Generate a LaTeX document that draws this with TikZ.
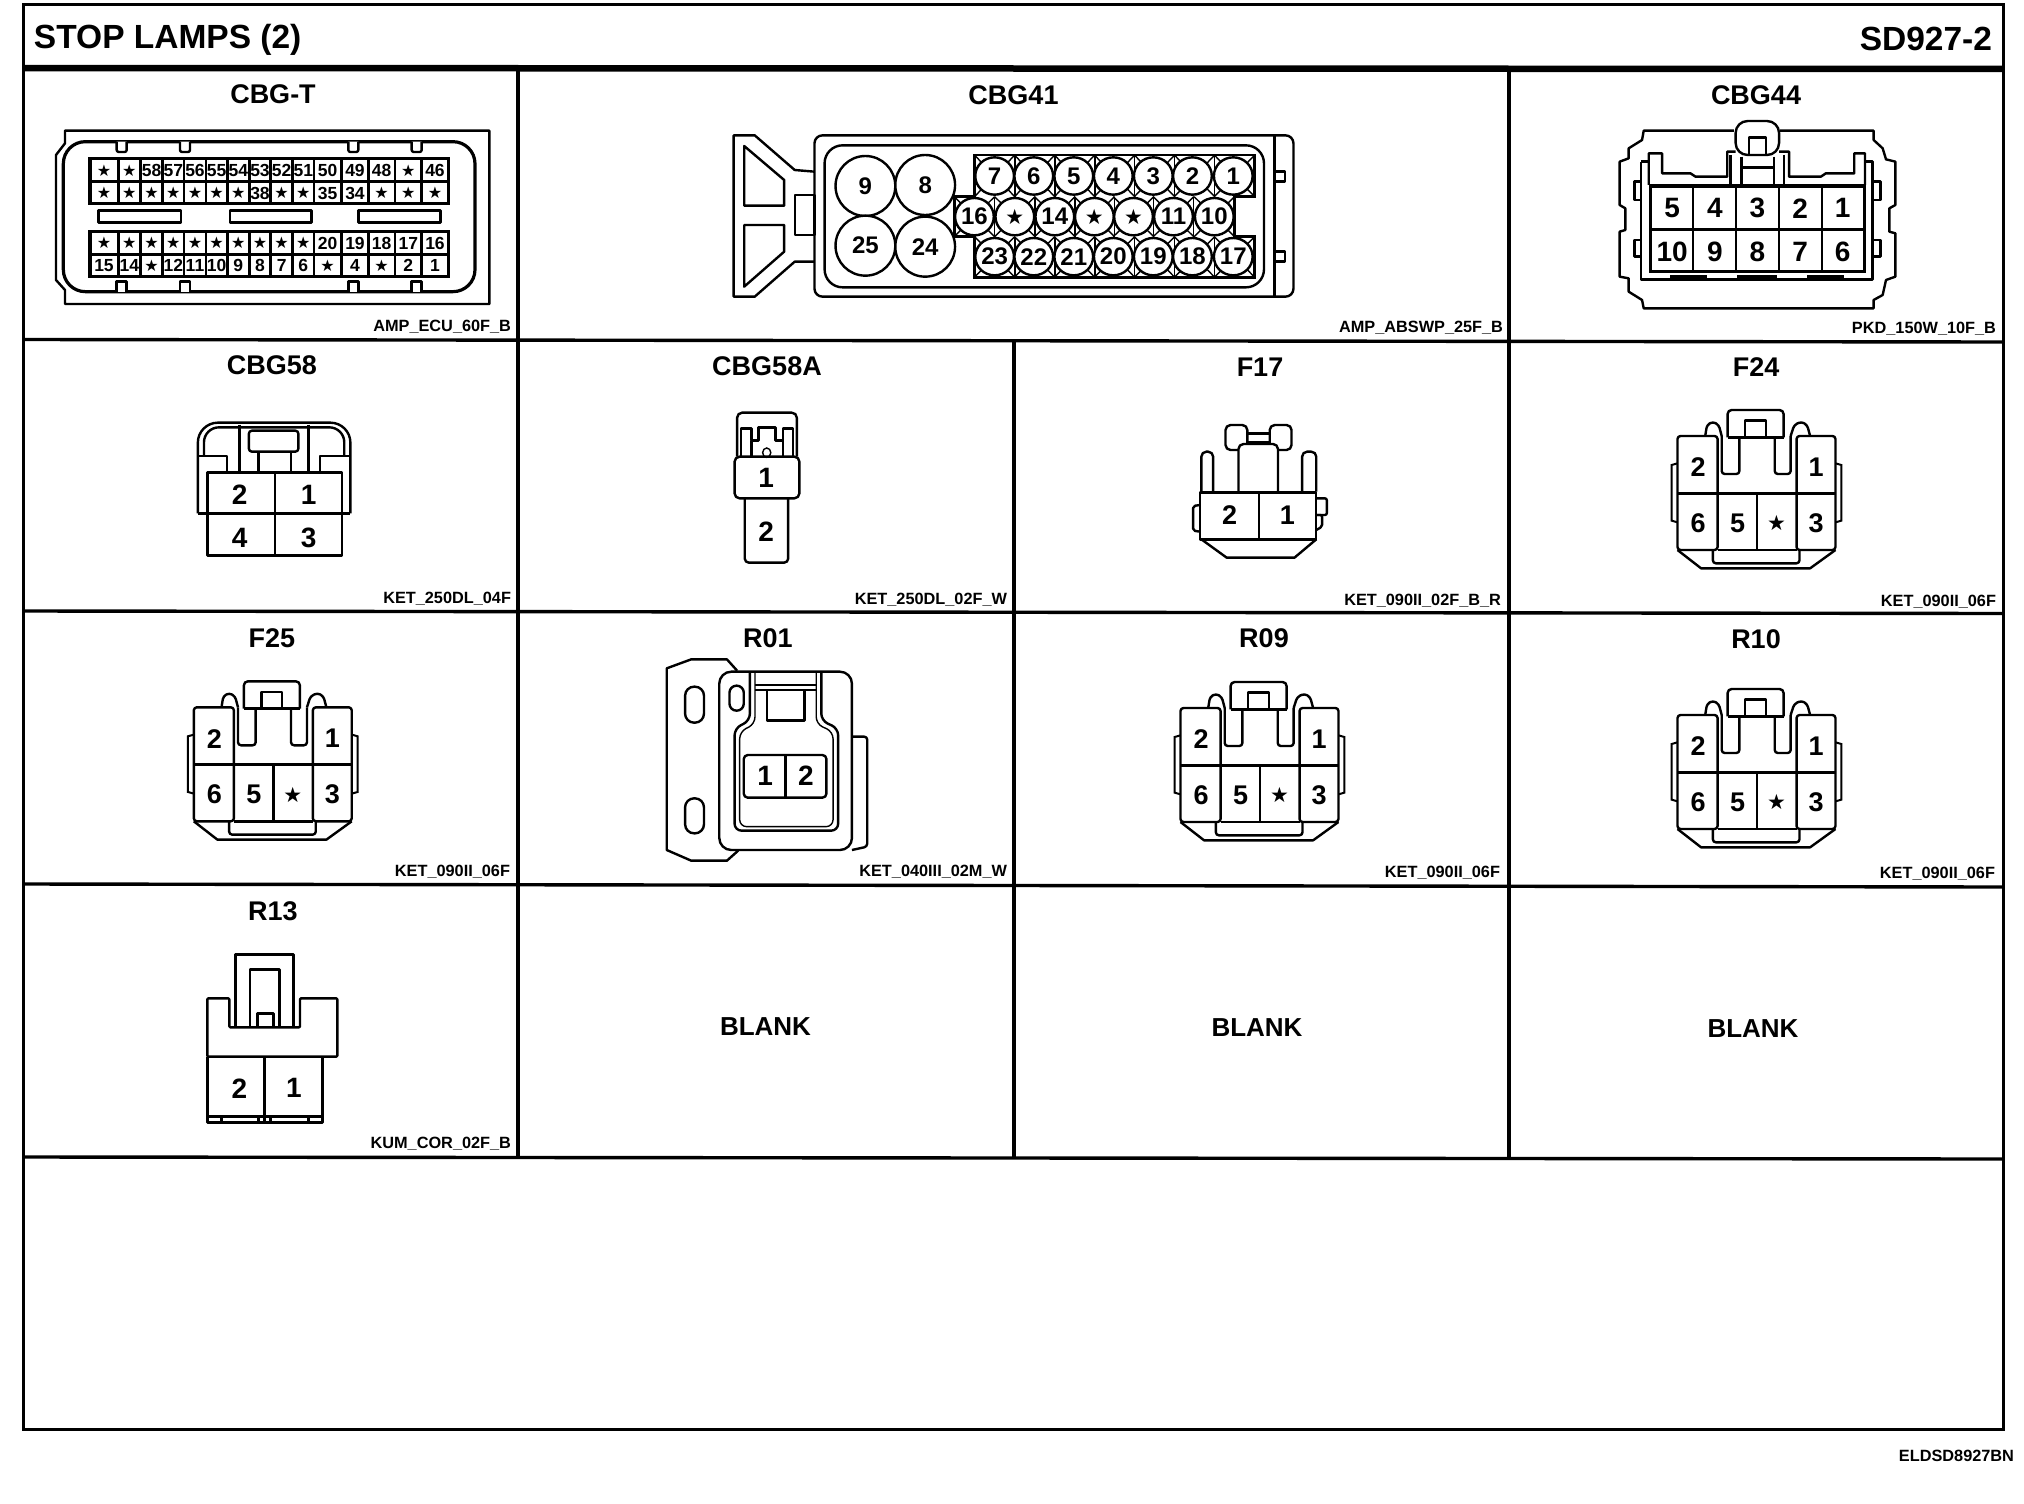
\documentclass[tikz,border=0pt]{standalone}
\usepackage{fontspec}
\setmainfont{Liberation Sans}
\newfontfamily\stfont{DejaVu Sans}
\newcounter{nn}
\newcommand{\fs}[1]{\fontsize{#1}{#1}\selectfont}
\newcommand{\ST}[1][21]{{\stfont\fs{#1}★}}
% text helper: size, x, y, text
\newcommand{\txt}[4]{\stepcounter{nn}\node[tlab,font=\bfseries\fs{#1}] (t\arabic{nn}) at (#2,#3) {#4};}
\newcommand{\lab}[3]{\stepcounter{nn}\node[tlab,anchor=east,font=\bfseries\fs{16.3}] (t\arabic{nn}) at (#1,#2) {#3};}
\tikzset{
  tlab/.style={inner sep=0pt,outer sep=0pt,text=black},
  cl/.style={line width=2.4pt,line join=round,draw=black},
  thn/.style={line width=1.4pt,draw=black},
  gridl/.style={line width=3.4pt,draw=black},
  zoomat/.style n args={3}{shift={(#1,#2)},x=#3pt,y=-0.33333pt}
}
% six-way connector: x and y of the local zoom origin
\newcommand{\sixpin}[2]{%
\begin{scope}[zoomat={#1}{#2}{0.5893}]
  \draw[cl,rounded corners=3pt] (1048,600)--(1048,258)--(980,258)--(980,600)--cycle;
  \draw[cl,rounded corners=3pt] (1182,600)--(1182,258)--(1248,258)--(1248,600)--cycle;
  \draw[cl] (980,430)--(1248,430) (1115,430)--(1115,600) (1048,600)--(1182,600);
  \draw[cl] (980,600)--(1020,655)--(1205,655)--(1248,600);
  \draw[cl,rounded corners=3pt] (1040,600)--(1040,640)--(1187,640)--(1187,600);
  \draw[cl,rounded corners=4pt] (1065,262)--(1065,180)--(1160,180)--(1160,262);
  \draw[cl] (1095,262)--(1095,212)--(1130,212)--(1130,262);
  \draw[cl] (1065,262)--(1160,262);
  \draw[cl,rounded corners=3pt] (1055,258)--(1055,372)--(1085,372)--(1085,262);
  \draw[cl,rounded corners=3pt] (1145,262)--(1145,372)--(1172,372)--(1172,258);
  \draw[cl,rounded corners=3pt] (1027,258)--(1030,225)--(1040,215)--(1050,225)--(1055,258);
  \draw[cl,rounded corners=3pt] (1172,258)--(1178,225)--(1190,215)--(1200,225)--(1205,258);
  \draw[thn,line width=2pt] (980,340)--(970,345)--(970,512)--(980,517);
  \draw[thn,line width=2pt] (1248,340)--(1258,345)--(1258,512)--(1248,517);
  \txt{27}{1015}{352}{2}\txt{27}{1215}{352}{1}
  \txt{27}{1015}{520}{6}\txt{27}{1082}{520}{5}\txt{27}{1148}{520}{\ST}\txt{27}{1215}{520}{3}
\end{scope}}
\begin{document}
\begin{tikzpicture}[x=1pt,y=-1pt]
\useasboundingbox (0,0) rectangle (2024,1504);
\fill[white] (0,0) rectangle (2024,1504);
% ---------- frame ----------
\draw[line width=3pt] (23,5) rectangle (2003,1429);
\draw[line width=6.5pt] (23,68)--(2003,69);
\draw[gridl] (23,339.5)--(2003,342) (23,611)--(2003,613.5) (23,884)--(2003,887) (23,1157)--(2003,1159);
\draw[gridl] (518,68)--(518,1158) (1014,340)--(1014,1158) (1509,69)--(1509,1158);
% ---------- title ----------
\stepcounter{nn}\node[tlab,anchor=west,font=\bfseries\fs{33.5}] (title) at (34,39.5) {STOP LAMPS (2)};
\stepcounter{nn}\node[tlab,anchor=east,font=\bfseries\fs{33.5}] (sheet) at (1992,39) {SD927-2};
\stepcounter{nn}\node[tlab,anchor=east,font=\bfseries\fs{16.3}] (code) at (2014,1456) {ELDSD8927BN};
% ---------- headers ----------
\txt{27}{273}{94}{CBG-T}\txt{27}{1013.5}{95}{CBG41}\txt{27}{1756}{95}{CBG44}
\txt{27}{272}{365}{CBG58}\txt{27}{767}{366}{CBG58A}\txt{27}{1260}{367}{F17}\txt{27}{1756}{367}{F24}
\txt{27}{272}{638}{F25}\txt{27}{768}{638}{R01}\txt{27}{1264}{638}{R09}\txt{27}{1756}{639}{R10}
\txt{27}{273}{911}{R13}
\txt{26}{765.5}{1027}{BLANK}\txt{26}{1257}{1028}{BLANK}\txt{26}{1753}{1029}{BLANK}
% ---------- part codes ----------
\lab{511}{326.5}{AMP\_ECU\_60F\_B}\lab{1503}{327.5}{AMP\_ABSWP\_25F\_B}\lab{1996}{328.5}{PKD\_150W\_10F\_B}
\lab{511}{598.5}{KET\_250DL\_04F}\lab{1007}{599.5}{KET\_250DL\_02F\_W}\lab{1501}{600.5}{KET\_090II\_02F\_B\_R}\lab{1996}{602}{KET\_090II\_06F}
\lab{510}{871.5}{KET\_090II\_06F}\lab{1007}{871.5}{KET\_040III\_02M\_W}\lab{1500}{873}{KET\_090II\_06F}\lab{1995}{874}{KET\_090II\_06F}
\lab{511}{1143.5}{KUM\_COR\_02F\_B}
% ---------- CBG-T ----------
\begin{scope}[zoomat={20}{60}{0.33333}]
  \draw[cl] (135,212)--(1408,212)--(1408,732)--(135,732)--(135,690)--(108,660)--(108,285)--(135,250)--cycle;
  \draw[line width=3.2pt,rounded corners=22pt] (130,245) rectangle (1365,695);
  \foreach \tx in {305,495,1000,1190}{
    \draw[cl,fill=white,rounded corners=2pt] (\tx-15,245)--(\tx-15,276)--(\tx+15,276)--(\tx+15,245);
    \draw[cl,fill=white] (\tx-15,695)--(\tx-15,665)--(\tx+15,665)--(\tx+15,695);
  }
  \draw[cl] (235,452) rectangle (483,487) (630,452) rectangle (875,487) (1015,452) rectangle (1262,487);
  \draw[line width=3pt] (210,296) rectangle (1285,430) (210,515) rectangle (1285,650);
  \draw[cl] (210,365)--(1285,365) (210,583)--(1285,583);
  \foreach \bx in {295,362,428,492,558,622,688,752,818,882,965,1045,1125,1205}{
    \draw[cl] (\bx,296)--(\bx,430) (\bx,515)--(\bx,650);
  }
  \foreach \cx/\a/\b/\c/\d in {252/\ST[16]/\ST[16]/\ST[16]/15, 328/\ST[16]/\ST[16]/\ST[16]/14, 395/58/\ST[16]/\ST[16]/\ST[16],
     460/57/\ST[16]/\ST[16]/12, 525/56/\ST[16]/\ST[16]/11, 590/55/\ST[16]/\ST[16]/10, 655/54/\ST[16]/\ST[16]/9,
     720/53/38/\ST[16]/8, 785/52/\ST[16]/\ST[16]/7, 850/51/\ST[16]/\ST[16]/6, 923/50/35/20/\ST[16],
     1005/49/34/19/4, 1085/48/\ST[16]/18/\ST[16], 1165/\ST[16]/\ST[16]/17/2, 1245/46/\ST[16]/16/1}{
    \txt{17.5}{\cx}{331}{\a}\txt{17.5}{\cx}{399}{\b}\txt{17.5}{\cx}{549}{\c}\txt{17.5}{\cx}{617}{\d}
  }
\end{scope}
% ---------- CBG41 ----------
\begin{scope}[zoomat={700}{60}{0.42088}]
  \draw[cl,rounded corners=8pt] (272,226) rectangle (1410,710);
  \draw[cl] (1365,226)--(1365,710);
  \draw[cl,rounded corners=18pt] (296,256) rectangle (1340,682);
  \draw[cl] (272,335)--(225,330)--(130,226)--(80,226)--(80,710)--(130,710)--(225,605)--(272,605);
  \draw[cl] (105,258)--(200,360)--(200,437)--(105,437)--cycle;
  \draw[cl] (105,495)--(200,495)--(200,575)--(105,680)--cycle;
  \draw[cl] (225,405) rectangle (272,525);
  \draw[cl] (1368,335)--(1390,335)--(1390,365)--(1368,365) (1368,575)--(1390,575)--(1390,605)--(1368,605);
  % pin field with its cross-webs
  \draw[line width=2.6pt] (652,285)--(1318,285)--(1318,410)--(1270,410)--(1270,530)--(1318,530)--(1318,652)--(652,652)--(652,530)--(605,530)--(605,410)--(652,410)--cycle;
  \foreach \g in {700,795,890,985,1080,1175,1270}{
    \draw[thn] (\g-48,285)--(\g,348)--(\g+48,285) (\g-48,410)--(\g,348)--(\g+48,410);
    \draw[thn] (\g-48,652)--(\g,590)--(\g+48,652) (\g-48,530)--(\g,590)--(\g+48,530);
    \draw[thn] (\g+48,285)--(\g+48,410) (\g+48,530)--(\g+48,652);
  }
  \foreach \g in {652,748,843,937,1030,1125,1222}{
    \draw[thn] (\g-48,410)--(\g,470)--(\g+48,410) (\g-48,530)--(\g,470)--(\g+48,530);
    \draw[thn] (\g+48,410)--(\g+48,530);
  }
  \foreach \cx/\cy/\t in {393/378/9,535/375/8,393/557/25,535/560/24}{
    \draw[cl,fill=white] (\cx,\cy) ellipse [x radius=71,y radius=90];
    \txt{24}{\cx}{\cy}{\t}
  }
  \foreach \cx/\t in {700/7,793/6,888/5,982/4,1077/3,1170/2,1267/1}{
    \draw[cl,fill=white] (\cx,348) ellipse [x radius=46,y radius=56];
    \txt{24}{\cx}{348}{\t}
  }
  \foreach \cx/\t in {652/16,748/\ST,843/14,937/\ST,1030/\ST,1125/11,1222/10}{
    \draw[cl,fill=white] (\cx,470) ellipse [x radius=46,y radius=56];
    \txt{24}{\cx}{470}{\t}
  }
  \foreach \cx/\t in {700/23,793/22,888/21,982/20,1077/19,1170/18,1267/17}{
    \draw[cl,fill=white] (\cx,590) ellipse [x radius=46,y radius=56];
    \txt{24}{\cx}{590}{\t}
  }
\end{scope}
% ---------- CBG44 ----------
\begin{scope}[zoomat={1500}{60}{0.3342}]
  \draw[cl] (838,212)--(1118,212)--(1118,240)--(1145,265)--(1155,298)--(1183,305)--(1183,435)--(1165,445)--(1165,515)--(1183,520)--(1183,650)--(1155,660)--(1145,705)--(1118,720)--(1118,745)--(430,745)--(425,720)--(385,695)--(385,655)--(358,650)--(358,515)--(375,510)--(375,445)--(358,435)--(358,305)--(385,295)--(385,265)--(425,240)--(430,212)--(700,212);
  \draw[cl,rounded corners=12pt] (705,285)--(705,183)--(835,183)--(835,285)--cycle;
  \draw[cl] (745,285)--(745,232)--(795,232)--(795,285);
  \draw[cl] (445,375)--(445,280)--(485,280)--(485,340)--(570,340)--(585,350)--(680,350)--(680,275)--(705,275) (835,275)--(865,275)--(865,350)--(960,350)--(975,340)--(1060,340)--(1060,280)--(1092,280)--(1092,375);
  \draw[cl] (690,285)--(690,375) (850,285)--(850,375) (722,290)--(722,375) (820,290)--(820,375) (722,322)--(820,322);
  \draw[cl] (422,305)--(422,658)--(1115,658)--(1115,305)--(1095,305) (422,305)--(445,305);
  \draw[line width=3.2pt] (450,378) rectangle (1090,635);
  \draw[cl] (450,508)--(1090,508);
  \foreach \dx in {578,706,835,963}{\draw[cl] (\dx,378)--(\dx,635);}
  \draw[line width=4pt] (510,652)--(620,652) (710,652)--(830,652) (920,652)--(1030,652);
  \foreach \sy/\ey in {365/420,540/590}{
    \draw[cl] (422,\sy)--(402,\sy)--(402,\ey)--(422,\ey) (1118,\sy)--(1138,\sy)--(1138,\ey)--(1118,\ey);
  }
  \foreach \cx/\a/\b in {515/5/10,643/4/9,770/3/8,898/2/7,1025/1/6}{
    \txt{28}{\cx}{445}{\a}\txt{28}{\cx}{575}{\b}
  }
\end{scope}
% ---------- CBG58 ----------
\begin{scope}[zoomat={130}{350}{0.5102}]
  \draw[cl,rounded corners=20pt] (133,490)--(133,218)--(432,218)--(432,490);
  \draw[cl] (133,490)--(432,490);
  \draw[cl,rounded corners=15pt] (145,318)--(145,232)--(420,232)--(420,318);
  \draw[cl] (133,318)--(190,318)--(190,365) (432,318)--(372,318)--(372,365);
  \draw[cl] (215,224)--(215,365) (350,224)--(350,365);
  \draw[cl,rounded corners=3pt] (233,242) rectangle (330,305);
  \draw[cl] (252,305)--(252,365) (315,305)--(315,365);
  \draw[cl] (152,367) rectangle (415,617);
  \draw[cl] (284,367)--(284,617);
  \txt{28}{215}{435}{2}\txt{28}{350}{435}{1}\txt{28}{215}{565}{4}\txt{28}{350}{565}{3}
\end{scope}
% ---------- CBG58A ----------
\begin{scope}[zoomat={130}{350}{0.5102}]
  \draw[cl,rounded corners=5pt] (1190,320)--(1190,188)--(1307,188)--(1307,320);
  \draw[cl] (1197,320)--(1197,235)--(1218,235)--(1218,272)--(1232,272)--(1232,232)--(1265,232)--(1265,272)--(1280,272)--(1280,235)--(1300,235)--(1300,320);
  \draw[cl] (1218,272)--(1218,318) (1280,272)--(1280,318);
  \draw[thn] (1248,308) ellipse [x radius=8,y radius=14];
  \draw[cl,rounded corners=5pt] (1185,320) rectangle (1312,445);
  \draw[cl,rounded corners=4pt] (1205,445)--(1205,638)--(1290,638)--(1290,445);
  \txt{28}{1247}{385}{1}\txt{28}{1247}{545}{2}
\end{scope}
% ---------- F17 ----------
\begin{scope}[zoomat={1100}{350}{0.5893}]
  \draw[cl,rounded corners=5pt] (213,225) rectangle (250,300);
  \draw[cl,rounded corners=5pt] (288,225) rectangle (325,300);
  \draw[cl] (250,250)--(288,250) (250,278)--(288,278);
  \draw[cl,rounded corners=5pt,fill=white] (235,425)--(235,282)--(302,282)--(302,425);
  \draw[cl,rounded corners=5pt] (172,425)--(172,305)--(192,305)--(192,425);
  \draw[cl,rounded corners=5pt] (343,425)--(343,305)--(367,305)--(367,425);
  \draw[cl] (170,428) rectangle (367,568);
  \draw[line width=3.2pt] (170,428)--(367,428);
  \draw[cl] (270,428)--(270,568);
  \draw[cl] (172,568)--(215,623)--(330,623)--(367,568);
  \draw[cl,rounded corners=2pt] (170,465)--(158,468)--(158,542)--(170,545);
  \draw[cl,rounded corners=2pt] (367,445)--(385,445)--(385,495)--(367,495);
  \draw[cl,rounded corners=2pt] (367,495)--(377,495)--(377,530)--(367,540);
  \txt{27}{220}{495}{2}\txt{27}{318}{495}{1}
\end{scope}
% ---------- six-way connectors ----------
\sixpin{1100}{350}
\sixpin{-383.7}{621.3}
\sixpin{603}{622}
\sixpin{1100}{629}
% ---------- R01 ----------
\begin{scope}[zoomat={130}{620}{0.5102}]
  \draw[cl] (1190,152)--(1170,118)--(1100,118)--(1052,145)--(1052,690)--(1100,722)--(1170,722)--(1192,692);
  \draw[cl,rounded corners=12pt] (1155,155) rectangle (1415,690);
  \draw[cl,rounded corners=3pt] (1415,350)--(1445,350)--(1445,680)--(1415,690);
  \draw[cl,rounded corners=9pt] (1088,200) rectangle (1125,308);
  \draw[cl,rounded corners=9pt] (1088,535) rectangle (1125,640);
  \draw[cl,rounded corners=7pt] (1175,197) rectangle (1203,272);
  \draw[cl] (1225,195)--(1345,195) (1225,210)--(1345,210);
  \draw[cl] (1248,210)--(1248,302)--(1322,302)--(1322,210);
  \draw[cl,rounded corners=7pt] (1215,155)--(1215,302)--(1185,325)--(1185,632)--(1388,632)--(1388,325)--(1355,302)--(1355,155);
  \draw[thn,rounded corners=7pt] (1225,155)--(1225,312)--(1195,335)--(1195,620)--(1378,620)--(1378,335)--(1345,312)--(1345,155);
  \draw[cl,rounded corners=4pt] (1203,405) rectangle (1365,533);
  \draw[cl] (1285,405)--(1285,533);
  \txt{28}{1245}{468}{1}\txt{28}{1325}{468}{2}
\end{scope}
% ---------- R13 ----------
\begin{scope}[zoomat={130}{900}{0.33333}]
  \draw[cl,rounded corners=1pt] (232,470)--(232,295)--(298,295)--(298,382)--(510,382)--(510,295)--(622,295)--(622,470)--cycle;
  \draw[cl] (317,382)--(317,163)--(490,163)--(490,382);
  \draw[cl] (360,382)--(360,208)--(448,208)--(448,382);
  \draw[cl] (383,382)--(383,340)--(430,340)--(430,382);
  \draw[cl] (232,470)--(232,668)--(578,668)--(578,470);
  \draw[cl] (403,470)--(403,668);
  \draw[cl] (232,650)--(578,650);
  \foreach \tk in {275,385,422,535}{\draw[cl] (\tk,650)--(\tk,668);}
  \txt{28}{328}{565}{2}\txt{28}{492}{565}{1}
\end{scope}
\end{tikzpicture}
\end{document}
